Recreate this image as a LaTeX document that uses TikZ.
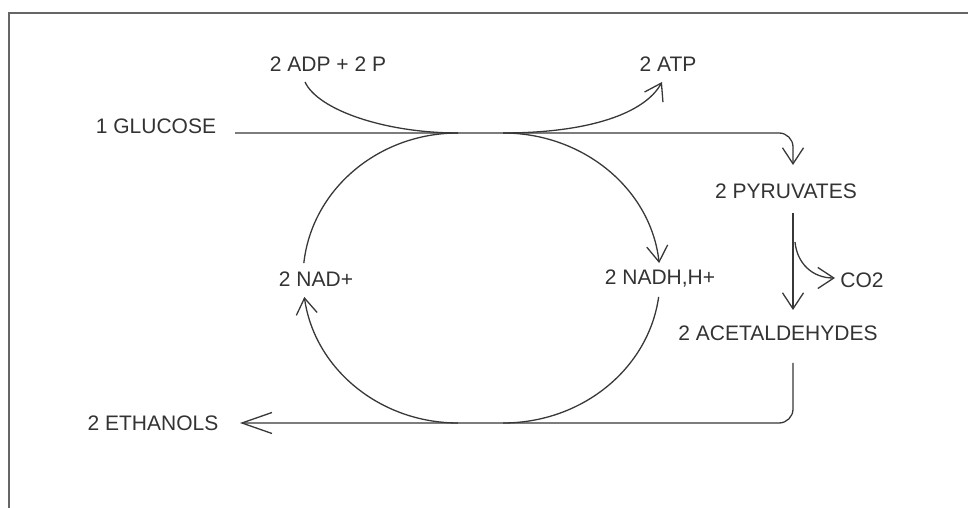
\documentclass[tikz,border=0pt]{standalone}
\usepackage{fontspec}
\setmainfont{Liberation Sans}
\usetikzlibrary{arrows.meta}
\begin{document}
\begin{tikzpicture}[x=1pt,y=1pt,
  lbl/.style={font=\fontsize{21}{25}\selectfont, text=black!80, inner sep=0pt, text height=15pt, text depth=0pt},
  conn/.style={draw=black!78, line width=1.3pt},
  arr/.style={conn, -{Straight Barb[length=16pt,width=21pt]}},
  longarr/.style={conn, -{Straight Barb[length=30pt,width=21pt]}},
  frameline/.style={draw=black!60, line width=2.2pt}]
\useasboundingbox (0,0) rectangle (968,508);
\draw[frameline] (9,0) -- (9,495) -- (968,495);

% labels
\node[lbl] (glu) at (156,382) {1 GLUCOSE};
\node[lbl] (adp) at (328,444) {2 ADP + 2 P};
\node[lbl] (atp) at (668,444) {2 ATP};
\node[lbl] (pyr) at (786,317) {2 PYRUVATES};
\node[lbl] (co2) at (862,228) {CO2};
\node[lbl] (aca) at (778,175) {2 ACETALDEHYDES};
\node[lbl] (eth) at (153,85) {2 ETHANOLS};
\node[lbl] (nad) at (316,229) {2 NAD+};
\node[lbl] (nadh) at (660,231) {2 NADH,H+};

% coordinates
\coordinate (gs) at (235,375);
\coordinate (pin) at (793,343);
\coordinate (pout) at (793,295);
\coordinate (ain) at (793,198);
\coordinate (cs) at (795,266);
\coordinate (cin) at (835,230);
\coordinate (aout) at (793,145);
\coordinate (ein) at (240,85);
\coordinate (as) at (305,426);
\coordinate (ltop) at (458,375);
\coordinate (rtop) at (503,375);
\coordinate (atpin) at (662,426);
\coordinate (lbot) at (458,85);
\coordinate (rbot) at (503,85);

% main path
\draw[arr, rounded corners=14pt] (gs) -| (pin);
\draw[arr] (pout) -- (ain);
\draw[arr] (cs) .. controls (797,245) and (812,230) .. (cin);
\draw[longarr, rounded corners=14pt] (aout) |- (ein);

% ADP -> ATP
\draw[conn] (as) .. controls (318,398) and (385,375) .. (ltop);
\draw[arr] (rtop) .. controls (590,375) and (645,395) .. (atpin);

% cycle
\draw[conn] (ltop) arc[start angle=90, end angle=174.1, x radius=155, y radius=145];
\draw[arr] (lbot) arc[start angle=270, end angle=187.5, x radius=155, y radius=145];
\draw[arr] (rtop) arc[start angle=90, end angle=5.9, x radius=157, y radius=145];
\draw[conn] (rbot) arc[start angle=-90, end angle=-7.5, x radius=157, y radius=145];
\end{tikzpicture}
\end{document}
